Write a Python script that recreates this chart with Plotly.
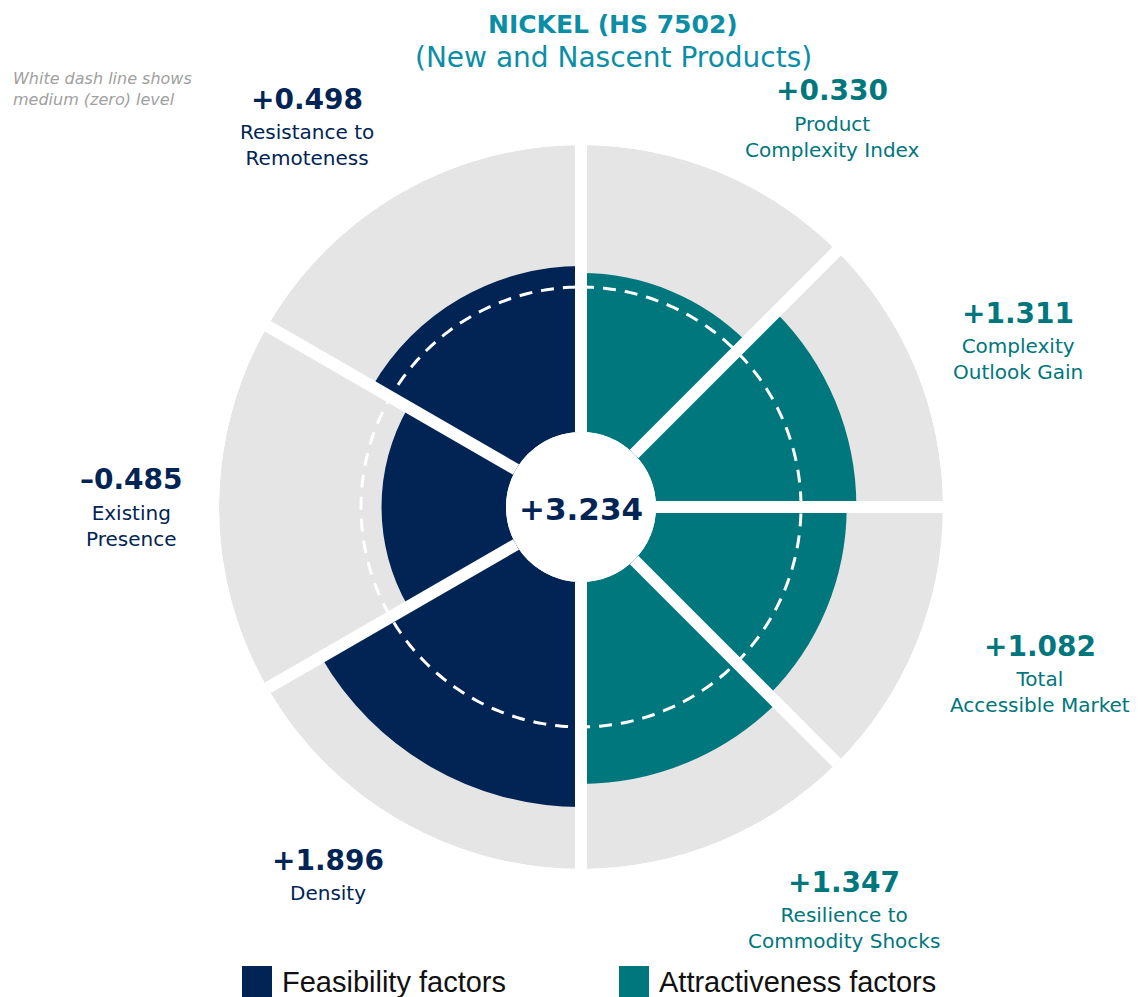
import plotly.graph_objects as go

# --- data -------------------------------------------------------------
feas_labels = ["Density", "Existing<br>Presence", "Resistance to<br>Remoteness"]
feas_values = [1.896, -0.485, 0.498]
feas_theta = [210, 270, 330]

attr_labels = ["Product<br>Complexity Index", "Complexity<br>Outlook Gain",
               "Total<br>Accessible Market", "Resilience to<br>Commodity Shocks"]
attr_values = [0.330, 1.311, 1.082, 1.347]
attr_theta = [22.5, 67.5, 112.5, 157.5]

total_score = 3.234
separators = [0, 45, 90, 135, 180, 240, 300]

# --- style ------------------------------------------------------------
NAVY = "#012454"
TEAL = "#00767D"
GREY = "#E5E5E5"
TITLE = "#0B8EA5"
FONT = "DejaVu Sans, Open Sans, sans-serif"

W, H = 1138, 997
OFF = 8  # page body margin
CX, CY, R_OUT = 581, 507, 362
R_MIN, R_MAX = -3.43, 3.36


def px(x):
    return (x - OFF) / W


def py(y):
    return 1 - (y - OFF) / H


def fmt(v):
    return ("+" if v >= 0 else "\u2013") + f"{abs(v):.3f}"


fig = go.Figure()

# grey background sectors
fig.add_trace(go.Barpolar(
    theta=feas_theta + attr_theta,
    width=[60] * 3 + [45] * 4,
    r=[R_MAX - R_MIN] * 7,
    base=R_MIN,
    marker=dict(color=GREY, line=dict(width=0)),
    hoverinfo="skip",
))

fig.add_trace(go.Barpolar(
    theta=feas_theta, width=[60] * 3,
    r=[v - R_MIN for v in feas_values], base=R_MIN,
    marker=dict(color=NAVY, line=dict(width=0)),
    name="Feasibility factors",
))
fig.add_trace(go.Barpolar(
    theta=attr_theta, width=[45] * 4,
    r=[v - R_MIN for v in attr_values], base=R_MIN,
    marker=dict(color=TEAL, line=dict(width=0)),
    name="Attractiveness factors",
))

# zero level (dashed)
ring = list(range(0, 361, 1))
fig.add_trace(go.Scatterpolar(
    theta=ring, r=[0] * len(ring), mode="lines",
    line=dict(color="white", width=3, dash="13px,9px"),
    hoverinfo="skip",
))

# white gaps between sectors
for t in separators:
    fig.add_trace(go.Scatterpolar(
        theta=[t, t], r=[R_MIN, R_MAX], mode="lines",
        line=dict(color="white", width=12),
        hoverinfo="skip",
    ))

fig.update_layout(
    width=W, height=H,
    margin=dict(l=0, r=0, t=0, b=0),
    paper_bgcolor="white",
    showlegend=False,
    polar=dict(
        domain=dict(x=[px(CX - R_OUT), px(CX + R_OUT)],
                    y=[py(CY + R_OUT), py(CY - R_OUT)]),
        hole=75 / R_OUT,
        bgcolor="white",
        barmode="overlay",
        radialaxis=dict(range=[R_MIN, R_MAX], visible=False),
        angularaxis=dict(rotation=90, direction="clockwise", visible=False),
    ),
)

ann = []


def text(x, y, s, size, color, bold=False, italic=False, anchor="center", family=FONT):
    if bold:
        s = f"<b>{s}</b>"
    if italic:
        s = f"<i>{s}</i>"
    ann.append(dict(x=px(x), y=py(y), xref="paper", yref="paper", text=s,
                    showarrow=False, xanchor=anchor, yanchor="middle", align=anchor,
                    font=dict(family=family, size=size, color=color)))


# title
text(613, 24, "NICKEL (HS 7502)", 25, TITLE, bold=True)
text(613, 57, "(New and Nascent Products)", 28, TITLE)
text(11, 89, "White dash line shows<br>medium (zero) level", 16, "#A0A0A0",
     italic=True, anchor="left")

# factor labels
feas_pos = [(328, 860), (131, 480), (307, 99)]
attr_pos = [(832, 91), (1018, 313), (1040, 646), (844, 882)]
for labels, values, pos, col in [(feas_labels, feas_values, feas_pos, NAVY),
                                 (attr_labels, attr_values, attr_pos, TEAL)]:
    for lab, v, (x, y) in zip(labels, values, pos):
        text(x, y, fmt(v), 28, col, bold=True)
        n = lab.count("<br>")
        text(x, y + 33 + 13 * n, lab, 20, col)

text(581, 509, fmt(total_score), 31, NAVY, bold=True)

# legend
LEG_FONT = "Liberation Sans Narrow, Arial Narrow, sans-serif"
for x0, col, lab in [(242, NAVY, "Feasibility factors"), (619, TEAL, "Attractiveness factors")]:
    fig.add_shape(type="rect", xref="paper", yref="paper",
                  x0=px(x0), x1=px(x0 + 30), y0=py(997), y1=py(966),
                  fillcolor=col, line=dict(width=0))
    text(x0 + 38, 982, lab, 29, "#111111", anchor="left", family=LEG_FONT)

fig.update_layout(annotations=ann)
fig.write_html("out.html")
